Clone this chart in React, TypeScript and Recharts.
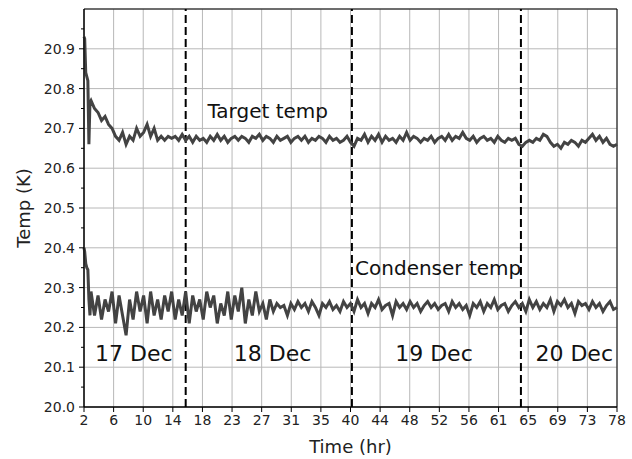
import React from 'react'
import {
  LineChart,
  Line,
  XAxis,
  YAxis,
  CartesianGrid,
  ReferenceLine,
  ReferenceArea,
  ReferenceDot,
  Label,
} from 'recharts'

// time axis: a few fine samples at the start, then every half hour from 3 to 78
const earlyHours = [2.0, 2.1, 2.25, 2.4, 2.55, 2.7, 2.85]
const hours = [...earlyHours, ...Array.from({ length: 151 }, (_, i) => 3 + i * 0.5)]

const targetTemp = [
  20.93, 20.925, 20.84, 20.83, 20.82, 20.66, 20.765,
  20.77, 20.75, 20.74, 20.72, 20.73, 20.71, 20.70, 20.68, 20.67, 20.69,
  20.66, 20.68, 20.67, 20.70, 20.68, 20.69, 20.71, 20.68, 20.70, 20.67,
  20.68, 20.67, 20.68, 20.675, 20.68, 20.67, 20.685, 20.67, 20.68, 20.665,
  20.68, 20.67, 20.675, 20.665, 20.68, 20.67, 20.685, 20.67, 20.68, 20.665,
  20.675, 20.68, 20.67, 20.68, 20.675, 20.665, 20.68, 20.675, 20.685, 20.67,
  20.68, 20.675, 20.665, 20.68, 20.67, 20.675, 20.68, 20.665, 20.675, 20.68,
  20.67, 20.68, 20.665, 20.675, 20.67, 20.68, 20.675, 20.665, 20.68, 20.67,
  20.675, 20.665, 20.67, 20.68, 20.665, 20.655, 20.675, 20.67, 20.685, 20.665,
  20.68, 20.67, 20.685, 20.665, 20.68, 20.67, 20.675, 20.665, 20.68, 20.67,
  20.69, 20.67, 20.68, 20.675, 20.665, 20.675, 20.67, 20.68, 20.665, 20.675,
  20.68, 20.67, 20.685, 20.67, 20.68, 20.675, 20.69, 20.675, 20.67, 20.68,
  20.665, 20.675, 20.68, 20.67, 20.675, 20.665, 20.68, 20.67, 20.665, 20.675,
  20.67, 20.675, 20.66, 20.655, 20.665, 20.67, 20.665, 20.675, 20.67, 20.685,
  20.68, 20.665, 20.655, 20.66, 20.65, 20.665, 20.66, 20.67, 20.665, 20.655,
  20.67, 20.665, 20.675, 20.685, 20.67, 20.68, 20.665, 20.675, 20.66, 20.655,
  20.66,
]

const condenserTemp = [
  20.40, 20.39, 20.36, 20.35, 20.345, 20.27, 20.23,
  20.29, 20.23, 20.28, 20.22, 20.27, 20.24, 20.29, 20.21, 20.28, 20.23,
  20.18, 20.27, 20.22, 20.29, 20.24, 20.28, 20.21, 20.29, 20.23, 20.27,
  20.22, 20.28, 20.24, 20.29, 20.22, 20.27, 20.23, 20.29, 20.21, 20.28,
  20.24, 20.27, 20.22, 20.29, 20.25, 20.28, 20.21, 20.26, 20.23, 20.29,
  20.22, 20.28, 20.24, 20.30, 20.21, 20.27, 20.23, 20.29, 20.24, 20.26,
  20.22, 20.27, 20.24, 20.26, 20.25, 20.255, 20.23, 20.26, 20.245, 20.265,
  20.25, 20.26, 20.24, 20.265, 20.25, 20.23, 20.26, 20.25, 20.265, 20.245,
  20.255, 20.24, 20.265, 20.25, 20.26, 20.24, 20.27, 20.25, 20.26, 20.235,
  20.26, 20.25, 20.27, 20.245, 20.255, 20.26, 20.23, 20.265, 20.25, 20.26,
  20.245, 20.265, 20.25, 20.26, 20.24, 20.255, 20.265, 20.25, 20.26, 20.245,
  20.255, 20.26, 20.24, 20.265, 20.25, 20.26, 20.245, 20.255, 20.23, 20.26,
  20.25, 20.265, 20.24, 20.26, 20.25, 20.27, 20.245, 20.255, 20.26, 20.24,
  20.255, 20.265, 20.25, 20.26, 20.24, 20.27, 20.25, 20.265, 20.245, 20.26,
  20.25, 20.27, 20.24, 20.265, 20.255, 20.27, 20.25, 20.26, 20.235, 20.265,
  20.255, 20.26, 20.245, 20.265, 20.25, 20.26, 20.24, 20.255, 20.265, 20.245,
  20.25,
]

const xTickLabels = ['2', '6', '10', '14', '18', '23', '27', '31', '35', '40', '44', '48', '52', '56', '61', '65', '69', '73', '78']
const xTicks = xTickLabels.map((_, i) => 2 + (i * 76) / 18)

const yMajor = [20.0, 20.1, 20.2, 20.3, 20.4, 20.5, 20.6, 20.7, 20.8, 20.9]
const yMinor = [20.05, 20.15, 20.25, 20.35, 20.45, 20.55, 20.65, 20.75, 20.85, 20.95]

const dayBoundaries = [16.5, 40.2, 64.3]
const dayLabels = [
  { text: '17 Dec', hour: 9.1, temp: 20.135 },
  { text: '18 Dec', hour: 28.9, temp: 20.135 },
  { text: '19 Dec', hour: 51.9, temp: 20.135 },
  { text: '20 Dec', hour: 71.9, temp: 20.135 },
]
const seriesLabels = [
  { text: 'Target temp', hour: 28.2, temp: 20.745 },
  { text: 'Condenser temp', hour: 52.5, temp: 20.35 },
]

const data = hours.map((h, i) => ({ hour: h, target: targetTemp[i], condenser: condenserTemp[i] }))

const FONT = '"DejaVu Sans", sans-serif'
const LINE = '#434343'

const YTick = (props: any) => {
  const { x, y, payload } = props
  const major = yMajor.some((v) => Math.abs(v - payload.value) < 1e-6)
  return (
    <g>
      <line x1={x - (major ? 5 : 3)} x2={x} y1={y} y2={y} stroke="#000" strokeWidth={1} />
      {major && (
        <text x={x - 9} y={y} dy={5} textAnchor="end" fontSize={14} fill="#222" fontFamily={FONT}>
          {payload.value.toFixed(1)}
        </text>
      )}
    </g>
  )
}

const textLabel = (text: string, size: number) => (props: any) => {
  const { viewBox } = props
  return (
    <text
      x={viewBox.x + viewBox.width / 2}
      y={viewBox.y + viewBox.height / 2}
      dy={size * 0.36}
      textAnchor="middle"
      fontSize={size}
      fill="#111"
      fontFamily={FONT}
    >
      {text}
    </text>
  )
}

export default function App() {
  const yTicks = [...yMajor, ...yMinor].sort((a, b) => a - b)
  return (
    <div style={{ position: 'absolute', left: 0, top: 0, background: '#fff' }}>
      <LineChart width={632} height={459} data={data} margin={{ top: 9, right: 15, left: 0, bottom: 0 }}>
        <CartesianGrid stroke="#b8b8b8" strokeWidth={1} horizontalValues={[...yMajor, 21]} />
        <XAxis
          dataKey="hour"
          type="number"
          domain={[2, 78]}
          ticks={xTicks}
          tickFormatter={(v: number) => xTickLabels[Math.round(((v - 2) * 18) / 76)]}
          height={52}
          stroke="#000"
          tickSize={5}
          tickMargin={3}
          tick={{ fontSize: 14, fill: '#222', fontFamily: FONT }}
          interval={0}
        >
          <Label value="Time (hr)" position="insideBottom" offset={6} style={{ fontSize: 18, fill: '#222', fontFamily: FONT }} />
        </XAxis>
        <YAxis
          type="number"
          domain={[20, 21]}
          ticks={yTicks}
          width={84}
          stroke="#000"
          tickSize={0}
          tickMargin={0}
          tickLine={false}
          tick={<YTick />}
          interval={0}
        >
          <Label
            value="Temp (K)"
            angle={-90}
            position="insideLeft"
            offset={24}
            style={{ fontSize: 18, fill: '#222', fontFamily: FONT, textAnchor: 'middle' }}
          />
        </YAxis>
        <ReferenceArea x1={2} x2={78} y1={20} y2={21} fill="none" stroke="#000" strokeWidth={1} />
        {dayBoundaries.map((h) => (
          <ReferenceLine key={h} x={h} stroke="#000" strokeWidth={2} strokeDasharray="8 4" />
        ))}
        <Line type="linear" dataKey="target" stroke={LINE} strokeWidth={3} dot={false} isAnimationActive={false} />
        <Line type="linear" dataKey="condenser" stroke={LINE} strokeWidth={3} dot={false} isAnimationActive={false} />
        {dayLabels.map((d) => (
          <ReferenceDot key={d.text} x={d.hour} y={d.temp} r={0} fill="none" stroke="none" label={textLabel(d.text, 22)} />
        ))}
        {seriesLabels.map((d) => (
          <ReferenceDot key={d.text} x={d.hour} y={d.temp} r={0} fill="none" stroke="none" label={textLabel(d.text, 20)} />
        ))}
      </LineChart>
    </div>
  )
}
